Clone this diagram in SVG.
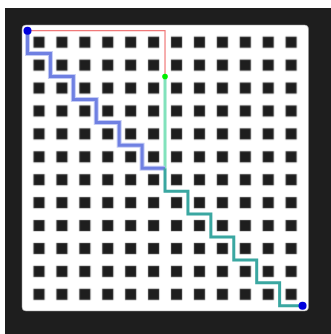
<svg xmlns="http://www.w3.org/2000/svg" width="331" height="334" viewBox="0 0 331 334">
  <defs>
    <style>
      .route { fill: none; stroke-linejoin: miter; stroke-linecap: butt; }
      .dot-end { fill: #0000dd; }
    </style>
    <pattern id="cells" x="27.5" y="30.7" width="22.92" height="22.92" patternUnits="userSpaceOnUse">
      <rect x="6" y="6" width="11" height="11" fill="#1e1e1e" stroke="#8a8a8a" stroke-width="0.4"/>
    </pattern>
  </defs>
  <rect x="0" y="0" width="331" height="334" fill="#ffffff"/>
  <rect x="5" y="8" width="326" height="326" fill="#1e1e1e"/>
  <g id="board">
    <rect x="22" y="25" width="286.5" height="286" rx="4" fill="#ffffff" stroke="#9a9a9a" stroke-width="0.5"/>
    <rect x="27.5" y="30.7" width="275.04" height="275.04" fill="url(#cells)"/>
  </g>
  <g id="connectors">
    <path class="route" d="M27.5,30.7 H165.02 V76.54" stroke="#f07a7a" stroke-width="1.2"/>
    <path class="route" d="M165.02,76.54 V168.22" stroke="#82e2bc" stroke-width="3"/>
    <path class="route" d="M27.5,30.7 V53.62 H50.42 V76.54 H73.34 V99.46 H96.26 V122.38 H119.18 V145.3 H142.1 V168.22 H165.02" stroke="#c5ccf5" stroke-width="5"/>
    <path class="route" d="M27.5,30.7 V53.62 H50.42 V76.54 H73.34 V99.46 H96.26 V122.38 H119.18 V145.3 H142.1 V168.22 H165.02" stroke="#6f80e2" stroke-width="3"/>
    <path class="route" d="M165.02,168.22 V191.14 H187.94 V214.06 H210.86 V236.98 H233.78 V259.9 H256.7 V282.82 H279.62 V305.74 H302.54" stroke="#3aa7a1" stroke-width="3"/>
  </g>
  <g id="start">
    <circle class="dot-end" cx="27.5" cy="30.7" r="4"/>
  </g>
  <g id="waypoint">
    <circle cx="165.02" cy="76.54" r="2.8" fill="#00ee00"/>
  </g>
  <g id="end">
    <circle class="dot-end" cx="302.54" cy="305.74" r="4"/>
  </g>
</svg>
